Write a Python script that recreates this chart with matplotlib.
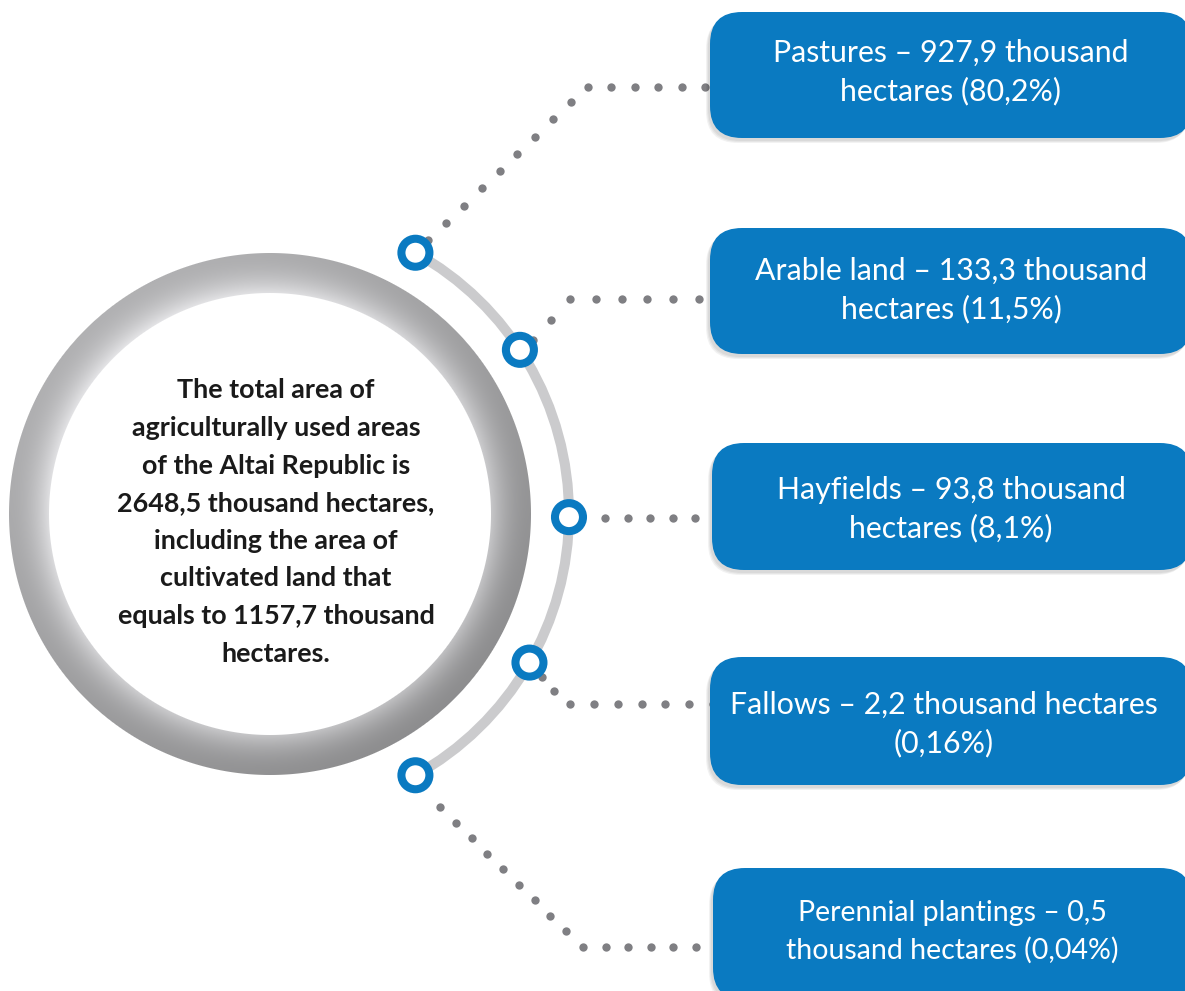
import numpy as np
import matplotlib
matplotlib.use("Agg")
import matplotlib.pyplot as plt
from matplotlib.patches import Circle, Arc, FancyBboxPatch

# --- Data ---
names = ["Pastures", "Arable land", "Hayfields", "Fallows", "Perennial plantings"]
values = [927.9, 133.3, 93.8, 2.2, 0.5]          # thousand hectares
shares = [80.2, 11.5, 8.1, 0.16, 0.04]           # percent
first_line_words = [4, 5, 4, 5, 4]               # where each label wraps

total_area = 2648.5
cultivated_area = 1157.7

# --- Layout (pixels, y grows downward) ---
W, H = 1185, 991
cx, cy = 270, 514            # big circle centre
r_in, r_out = 221, 261       # big grey ring
arc_r = 299                  # thin grey arc with the blue markers
marker_angles = [60.9, 33.3, -0.6, -29.8, -60.9]

box_x0 = [710, 710, 712, 710, 713]
box_y = [(12, 138), (228, 354), (443, 570), (657, 785), (868, 1000)]
text_x = [951, 951, 951, 944, 952]
text_y = [72, 290, 509, 724, 932]

# connector waypoints: each segment gets evenly spaced dots
connectors = [
    [(428, 240), (571, 102), (588, 87), (705, 87)],
    [(533, 340), (551, 320), (570, 299), (699, 299)],
    [(605, 518), (695, 518)],
    [(542, 677), (554, 691), (570, 704), (713, 704)],
    [(440, 807), (566, 931), (583, 947), (696, 947)],
]
spacing = 23.5

BLUE = "#0a7ac1"
DOT = "#7f7f83"
ARC_GREY = "#cbcbcd"

fig = plt.figure(figsize=(W / 100, H / 100), dpi=100)
ax = fig.add_axes([0, 0, 1, 1])
ax.set_xlim(0, W)
ax.set_ylim(H, 0)
ax.set_aspect("equal")
ax.axis("off")

# --- Big grey ring with shading ---
pad = 4
x0, x1 = cx - r_out - pad, cx + r_out + pad
y0, y1 = cy - r_out - pad, cy + r_out + pad
xs = np.arange(x0, x1) + 0.5
ys = np.arange(y0, y1) + 0.5
X, Y = np.meshgrid(xs, ys)
dx, dy = X - cx, cy - Y
r = np.hypot(dx, dy)
ang = np.arctan2(dy, dx)
t = np.clip((r - r_in) / (r_out - r_in), 0, 1)
grey = 0.80 - 0.20 * t + 0.07 * np.cos(ang - np.radians(130)) - 0.05 * (t * (1 - t) * 4 - 0.5)
grey = np.clip(grey, 0, 1)
alpha = np.clip(r - r_in + 0.5, 0, 1) * np.clip(r_out - r + 0.5, 0, 1)
img = np.dstack([grey, grey, grey * 1.01, alpha])
img = np.clip(img, 0, 1)
ax.imshow(img, extent=(x0, x1, y1, y0), origin="upper", interpolation="bilinear", zorder=1)

# --- Thin arc ---
ax.add_patch(Arc((cx, cy), 2 * arc_r, 2 * arc_r, theta1=-61, theta2=61,
                 color=ARC_GREY, lw=7.2, zorder=2))

# --- Dotted connectors ---
for path in connectors:
    pts = []
    for (ax0, ay0), (ax1, ay1) in zip(path[:-1], path[1:]):
        n = max(1, int(round(np.hypot(ax1 - ax0, ay1 - ay0) / spacing)))
        for k in range(n + 1):
            pts.append((ax0 + (ax1 - ax0) * k / n, ay0 + (ay1 - ay0) * k / n))
    pts = np.unique(np.round(pts, 1), axis=0)
    ax.scatter(pts[:, 0], pts[:, 1], s=36, color=DOT, lw=0, zorder=3)

# --- Blue ring markers ---
for a in marker_angles:
    mx = cx + arc_r * np.cos(np.radians(a))
    my = cy - arc_r * np.sin(np.radians(a))
    ax.add_patch(Circle((mx, my), 14, facecolor="white", edgecolor=BLUE, lw=5.8, zorder=4))

# --- Boxes ---
for i in range(len(names)):
    bx0 = box_x0[i]
    by0, by1 = box_y[i]
    bw, bh = 1192 - bx0, by1 - by0
    for k in range(3):
        sh = FancyBboxPatch((bx0 - 2 - k, by0 + 3 + k), bw, bh,
                            boxstyle="round,pad=0,rounding_size=32",
                            facecolor="#000000", edgecolor="none", alpha=0.05, zorder=4)
        ax.add_patch(sh)
    ax.add_patch(FancyBboxPatch((bx0, by0), bw, bh,
                                boxstyle="round,pad=0,rounding_size=32",
                                facecolor=BLUE, edgecolor="none", zorder=5))

    words = f"{names[i]} – {values[i]:g} thousand hectares ({shares[i]:g}%)".replace(".", ",").split()
    n1 = first_line_words[i]
    label = " ".join(words[:n1]) + "\n" + " ".join(words[n1:])
    ax.text(text_x[i], text_y[i], label, ha="center", va="center",
            color="white", fontsize=21.8 if i < 4 else 20.5, family=["Lato", "DejaVu Sans"],
            linespacing=1.42 if i < 4 else 1.5, zorder=6)

# --- Centre text ---
centre = ("The total area of\nagriculturally used areas\nof the Altai Republic is\n"
          f"{total_area:g} thousand hectares,\nincluding the area of\ncultivated land that\n"
          f"equals to {cultivated_area:g} thousand\nhectares").replace(".", ",") + "."
ax.text(276, 522, centre, ha="center", va="center", color="#1a1a1a", fontsize=19.4,
        fontweight="bold", family=["Lato", "DejaVu Sans"], linespacing=1.68, zorder=6)

plt.savefig("out.png", dpi=100)
